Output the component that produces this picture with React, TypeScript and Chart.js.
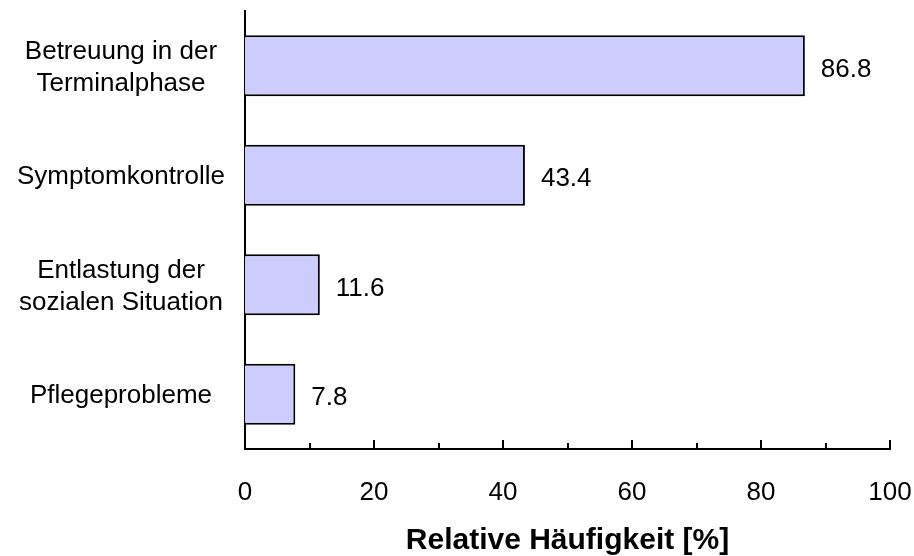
import React, { useEffect, useRef } from "react";
import { Chart, registerables } from "chart.js";

Chart.register(...registerables);

const categories: (string | string[])[] = [
  ["Betreuung in der", "Terminalphase"],
  "Symptomkontrolle",
  ["Entlastung der", "sozialen Situation"],
  "Pflegeprobleme",
];
const values: number[] = [86.8, 43.4, 11.6, 7.8];
const xTickValues: number[] = [0, 10, 20, 30, 40, 50, 60, 70, 80, 90, 100];
const axisTitle = "Relative Häufigkeit [%]";

const FONT = "'Liberation Sans', Arial, sans-serif";

const tickMarksPlugin = {
  id: "tickMarks",
  afterDraw(chart: any) {
    const ctx = chart.ctx;
    const xs = chart.scales.x;
    const bottom = chart.chartArea.bottom;
    ctx.save();
    ctx.strokeStyle = "#000";
    ctx.lineWidth = 2;
    xTickValues.forEach((v) => {
      const px = Math.round(xs.getPixelForValue(v));
      const len = v % 20 === 0 ? 9 : 6;
      ctx.beginPath();
      ctx.moveTo(px, bottom);
      ctx.lineTo(px, bottom - len);
      ctx.stroke();
    });
    ctx.restore();
  },
};

const valueLabelPlugin = {
  id: "valueLabels",
  afterDatasetsDraw(chart: any) {
    const ctx = chart.ctx;
    const meta = chart.getDatasetMeta(0);
    ctx.save();
    ctx.fillStyle = "#000";
    ctx.font = `26px ${FONT}`;
    ctx.textAlign = "left";
    ctx.textBaseline = "middle";
    meta.data.forEach((bar: any, i: number) => {
      ctx.fillText(values[i].toFixed(1), bar.x + 16, bar.y + 4);
    });
    ctx.restore();
  },
};

export default function App() {
  const ref = useRef<HTMLCanvasElement | null>(null);
  useEffect(() => {
    if (!ref.current) return;
    const chart = new Chart(ref.current, {
      type: "bar",
      data: {
        labels: categories,
        datasets: [
          {
            data: values,
            backgroundColor: "#ccccff",
            borderColor: "#000",
            borderWidth: 2,
            categoryPercentage: 1,
            barPercentage: 0.557,
          },
        ],
      },
      options: {
        indexAxis: "y",
        animation: false,
        responsive: false,
        layout: { padding: { top: 11, right: 24, left: 0, bottom: 0 } },
        plugins: {
          legend: { display: false },
          tooltip: { enabled: false },
        },
        scales: {
          x: {
            min: 0,
            max: 100,
            grid: { display: false, drawTicks: false },
            border: { display: true, color: "#000", width: 2 },
            ticks: {
              stepSize: 20,
              color: "#000",
              font: { family: FONT, size: 26 },
              padding: 28,
              maxRotation: 0,
            },
            title: {
              display: true,
              text: axisTitle,
              color: "#000",
              font: { family: FONT, size: 30, weight: "bold" },
              padding: { top: 0, bottom: -3 },
            },
            afterFit(scale: any) {
              scale.height = 107;
              scale.paddingLeft = 0;
              scale.paddingRight = 0;
              scale.paddingTop = 0;
              scale.paddingBottom = 0;
            },
          },
          y: {
            grid: { display: false, drawTicks: false },
            border: { display: true, color: "#000", width: 2 },
            ticks: {
              color: "#000",
              font: { family: FONT, size: 26, lineHeight: 1.23 },
              crossAlign: "center",
              padding: 20,
              labelOffset: 2,
            },
            afterFit(scale: any) {
              scale.width = 245;
              scale.paddingLeft = 0;
              scale.paddingRight = 0;
              scale.paddingTop = 0;
              scale.paddingBottom = 0;
            },
          },
        },
      },
      plugins: [tickMarksPlugin, valueLabelPlugin],
    } as any);
    return () => chart.destroy();
  }, []);
  return (
    <div style={{ position: "absolute", left: 0, top: 0, width: 914, height: 556, background: "#fff" }}>
      <canvas ref={ref} width={914} height={556} style={{ width: 914, height: 556 }} />
    </div>
  );
}
